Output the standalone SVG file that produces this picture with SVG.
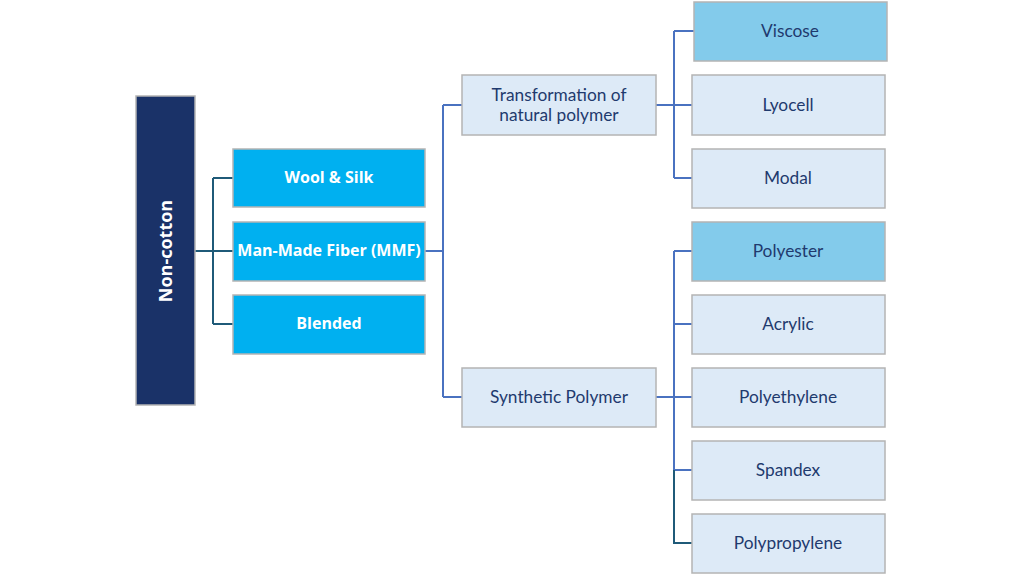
<svg xmlns="http://www.w3.org/2000/svg" width="1021" height="575" viewBox="0 0 1021 575">
<style>
.box{stroke:#b4b4b4;stroke-width:1.5}
.root{fill:#1a3268}
.l1{fill:#00b0f0}
.lt{fill:#ddeaf7}
.hl{fill:#83cbeb}
.t{font-family:Lato,"Liberation Sans",sans-serif;font-size:17.3px;fill:#1f3a6e;text-anchor:middle;dominant-baseline:central}
.tb{font-family:"Open Sans","Liberation Sans",sans-serif;font-size:16px;font-weight:bold;fill:#ffffff;text-anchor:middle;dominant-baseline:central}
.c1{fill:none;stroke:#1f5a78;stroke-width:2}
.c2{fill:none;stroke:#4a72c0;stroke-width:2}
</style>
<rect width="1021" height="575" fill="#ffffff"/>
<g id="connectors">
<path class="c1" d="M195 251H233M213 178V324M213 178H233M213 324H233"/>
<path class="c2" d="M425 251H443M443 105V397M443 105H462M443 397H462"/>
<path class="c2" d="M656 105H692M674 31V178M674 31H694M674 178H692"/>
<path class="c2" d="M656 397H692M674 251V470M674 251H692M674 324H692M674 470H692"/>
<path class="c1" d="M674 470V543H692"/>
</g>
<g id="non-cotton"><rect class="box root" x="136" y="96" width="59" height="309"/><text class="tb" transform="translate(165 251) rotate(-90)" style="font-size:18px">Non-cotton</text></g>
<g id="wool-silk"><rect class="box l1" x="233" y="149" width="192" height="58"/><text class="tb" x="329" y="177">Wool &amp; Silk</text></g>
<g id="mmf"><rect class="box l1" x="233" y="222" width="192" height="59"/><text class="tb" x="329" y="250">Man-Made Fiber (MMF)</text></g>
<g id="blended"><rect class="box l1" x="233" y="295" width="192" height="59"/><text class="tb" x="329" y="323">Blended</text></g>
<g id="transformation"><rect class="box lt" x="462" y="75" width="194" height="60"/><text class="t" x="559" y="94">Transformation of</text><text class="t" x="559" y="114">natural polymer</text></g>
<g id="synthetic"><rect class="box lt" x="462" y="368" width="194" height="59"/><text class="t" x="559" y="396">Synthetic Polymer</text></g>
<g id="viscose"><rect class="box hl" x="694" y="2" width="193" height="59"/><text class="t" x="790" y="30">Viscose</text></g>
<g id="lyocell"><rect class="box lt" x="692" y="75" width="193" height="60"/><text class="t" x="788" y="104">Lyocell</text></g>
<g id="modal"><rect class="box lt" x="692" y="149" width="193" height="59"/><text class="t" x="788" y="177">Modal</text></g>
<g id="polyester"><rect class="box hl" x="692" y="222" width="193" height="59"/><text class="t" x="788" y="250">Polyester</text></g>
<g id="acrylic"><rect class="box lt" x="692" y="295" width="193" height="59"/><text class="t" x="788" y="323">Acrylic</text></g>
<g id="polyethylene"><rect class="box lt" x="692" y="368" width="193" height="59"/><text class="t" x="788" y="396">Polyethylene</text></g>
<g id="spandex"><rect class="box lt" x="692" y="441" width="193" height="59"/><text class="t" x="788" y="469">Spandex</text></g>
<g id="polypropylene"><rect class="box lt" x="692" y="514" width="193" height="59"/><text class="t" x="788" y="542">Polypropylene</text></g>
</svg>
